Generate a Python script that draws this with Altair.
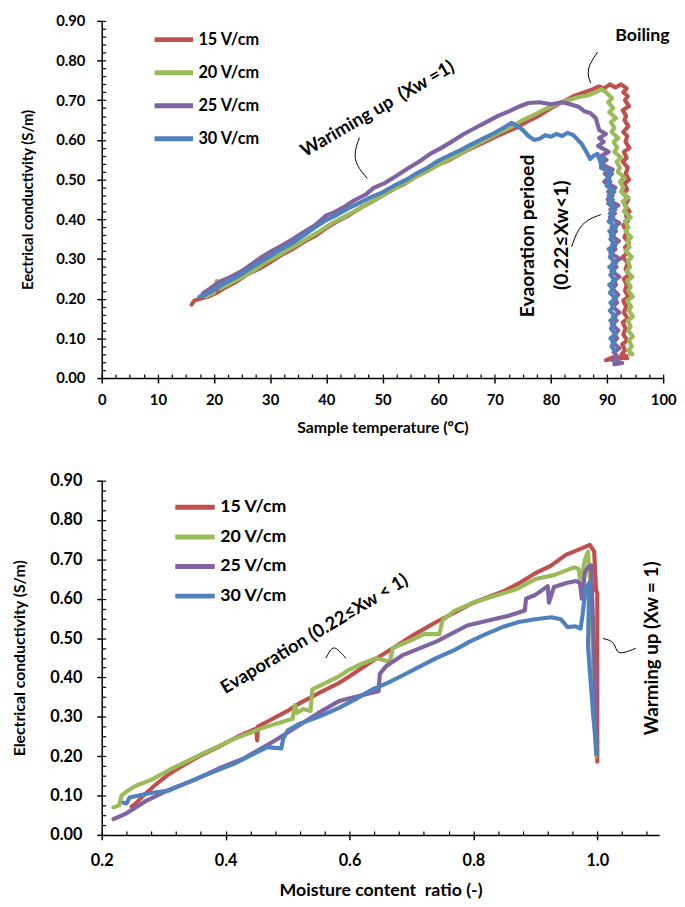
import altair as alt
import pandas as pd
import numpy as np

SERIES = ["15 V/cm", "20 V/cm", "25 V/cm", "30 V/cm"]
COLORS = ["#C0504D", "#9BBB59", "#8064A2", "#4F81BD"]
FONT = "Lato"

# ---------------- top panel: EC vs sample temperature (T, EC) ----------------
top_15 = [(16.0,0.185),(16.5,0.195),(17.5,0.20),(19.0,0.205),(20.5,0.215),(22.0,0.228),(24.0,0.243),
          (26.0,0.262),(28.0,0.275),(30.0,0.292),(32.0,0.31),(34.0,0.325),(36.0,0.343),(38.0,0.358),
          (40.0,0.378),(42.0,0.395),(44.0,0.41),(46.0,0.428),(48.0,0.443),(50.0,0.46),(52.0,0.476),
          (54.0,0.49),(56.0,0.508),(58.0,0.522),(60.0,0.538),(62.0,0.55),(64.0,0.566),(66.0,0.58),
          (68.0,0.593),(70.0,0.607),(72.0,0.62),(74.0,0.632),(76.0,0.648),(78.0,0.662),(80.0,0.68),
          (82.0,0.695),(84.0,0.71),(86.0,0.72),(87.5,0.728),(88.5,0.735),(89.5,0.73),(90.5,0.74),
          (91.5,0.732),(92.5,0.74),
          (93.5,0.73),(92.9,0.72),(93.7,0.71),(93.2,0.70),(93.9,0.685),(92.8,0.675),(93.4,0.66),
          (93.1,0.65),(93.8,0.635),(92.9,0.62),(93.6,0.61),(93.3,0.595),(94.0,0.58),(93.0,0.57),
          (93.5,0.555),(92.8,0.545),(93.7,0.53),(93.3,0.515),(93.9,0.50),(93.1,0.49),(93.6,0.475),
          (92.9,0.465),(93.8,0.45),(93.2,0.435),(94.0,0.42),(93.4,0.41),(93.7,0.395),(92.9,0.385),
          (93.5,0.37),(93.1,0.355),(93.9,0.34),(93.2,0.33),(93.6,0.315),(92.8,0.305),(93.7,0.29),
          (93.3,0.275),(93.9,0.26),(93.0,0.25),(93.5,0.235),(93.2,0.22),(93.8,0.205),(92.9,0.195),
          (93.4,0.18),(93.0,0.165),(93.7,0.15),(92.8,0.14),(93.3,0.125),(92.9,0.11),(93.6,0.095),
          (92.7,0.085),(93.2,0.07),(92.6,0.06),(93.4,0.055),(91.5,0.05),(89.8,0.045),(91.0,0.052),
          (93.6,0.05)]
top_20 = [(18.5,0.205),(20.0,0.215),(20.5,0.245),(21.0,0.225),(23.0,0.24),(25.0,0.255),(27.0,0.27),
          (29.0,0.29),(31.0,0.305),(33.0,0.322),(35.0,0.338),(37.0,0.355),(39.0,0.372),(41.0,0.39),
          (43.0,0.405),(45.0,0.42),(47.0,0.436),(49.0,0.452),(51.0,0.468),(53.0,0.484),(55.0,0.5),
          (57.0,0.515),(59.0,0.53),(61.0,0.545),(63.0,0.56),(65.0,0.575),(67.0,0.59),(69.0,0.605),
          (71.0,0.62),(73.0,0.633),(75.0,0.65),(77.0,0.663),(79.0,0.678),(81.0,0.69),(83.0,0.7),
          (85.0,0.708),(86.5,0.712),(88.0,0.72),(89.0,0.728),(89.8,0.72),
          (90.9,0.705),(90.2,0.695),(91.1,0.68),(90.4,0.67),(91.6,0.655),(90.7,0.645),(91.3,0.63),
          (90.8,0.62),(92.0,0.605),(91.2,0.595),(91.8,0.58),(91.3,0.57),(92.5,0.555),(91.7,0.545),
          (92.3,0.53),(91.9,0.52),(93.1,0.505),(92.3,0.495),(92.9,0.48),(92.5,0.47),(93.8,0.455),
          (92.8,0.445),(93.5,0.43),(93.0,0.42),(94.2,0.405),(93.2,0.395),(93.8,0.38),(93.3,0.37),
          (94.3,0.355),(93.6,0.345),(94.0,0.33),(93.3,0.32),(94.4,0.305),(93.7,0.295),(94.1,0.28),
          (93.5,0.27),(94.5,0.255),(93.6,0.245),(94.2,0.23),(93.8,0.22),(94.6,0.205),(93.6,0.195),
          (94.3,0.18),(93.9,0.17),(94.6,0.155),(93.7,0.145),(94.2,0.13),(93.8,0.12),(94.6,0.105),
          (93.9,0.095),(94.4,0.08),(93.8,0.07),(94.5,0.06),(94.0,0.06)]
top_25 = [(18.0,0.213),(19.5,0.228),(21.0,0.243),(23.0,0.255),(25.0,0.27),(27.0,0.29),(28.5,0.305),
          (30.0,0.318),(32.0,0.333),(34.0,0.35),(36.0,0.368),(38.0,0.385),(40.0,0.41),(41.5,0.418),
          (43.0,0.43),(45.0,0.448),(47.0,0.462),(48.5,0.48),(50.5,0.492),(52.5,0.51),(54.5,0.528),
          (56.5,0.545),(58.5,0.565),(60.5,0.58),(62.5,0.597),(64.5,0.615),(66.5,0.63),(68.5,0.645),
          (70.5,0.66),(72.5,0.672),(74.5,0.685),(76.0,0.693),(78.0,0.695),(80.0,0.69),(82.0,0.695),
          (83.5,0.69),(85.0,0.683),(86.0,0.672),(87.0,0.668),(88.0,0.655),(88.6,0.625),
          (89.8,0.615),(88.6,0.605),(89.4,0.595),(88.4,0.585),(90.3,0.57),(89.0,0.56),(89.9,0.55),
          (88.9,0.54),(91.0,0.525),(89.6,0.515),(90.4,0.505),(89.5,0.495),(91.5,0.48),(90.2,0.47),
          (91.0,0.46),(90.1,0.45),(92.0,0.435),(90.6,0.425),(91.4,0.415),(90.5,0.405),(92.2,0.39),
          (90.8,0.38),(91.6,0.37),(90.7,0.36),(92.1,0.345),(90.9,0.335),(91.5,0.325),(90.6,0.315),
          (92.3,0.30),(91.0,0.29),(91.7,0.28),(90.8,0.27),(92.2,0.255),(91.1,0.245),(91.6,0.235),
          (90.9,0.225),(92.0,0.21),(91.2,0.20),(91.8,0.19),(91.0,0.18),(92.2,0.165),(91.1,0.155),
          (91.7,0.145),(90.9,0.135),(92.0,0.12),(91.3,0.11),(91.8,0.10),(91.0,0.09),(92.2,0.075),
          (91.2,0.065),(91.8,0.055),(91.0,0.045),(92.7,0.038),(91.3,0.035)]
top_30 = [(17.4,0.205),(18.5,0.21),(20.0,0.222),(22.0,0.24),(24.0,0.255),(26.0,0.272),(28.0,0.29),
          (30.0,0.307),(32.0,0.325),(34.0,0.34),(36.0,0.36),(38.0,0.38),(40.0,0.398),(42.0,0.412),
          (44.0,0.428),(46.0,0.442),(48.0,0.456),(50.0,0.468),(52.0,0.484),(54.0,0.498),(56.0,0.515),
          (58.0,0.53),(60.0,0.548),(62.0,0.562),(64.0,0.575),(66.0,0.59),(68.0,0.604),(70.0,0.618),
          (71.5,0.63),(73.0,0.643),(74.0,0.635),(75.0,0.625),(76.0,0.61),(77.0,0.6),(78.0,0.603),
          (79.0,0.612),(80.0,0.608),(81.0,0.615),(82.0,0.61),(83.0,0.618),(84.0,0.612),(84.8,0.6),
          (85.5,0.59),(86.3,0.57),(87.0,0.552),(87.6,0.56),(88.3,0.565),(88.8,0.545),(89.3,0.555),
          (88.9,0.53),(89.6,0.525),
          (90.9,0.515),(90.1,0.505),(90.6,0.495),(89.9,0.485),(91.3,0.47),(90.3,0.46),(91.0,0.45),
          (90.2,0.44),(91.5,0.425),(90.5,0.415),(91.1,0.405),(90.3,0.395),(91.6,0.38),(90.4,0.37),
          (91.2,0.36),(90.6,0.35),(91.5,0.335),(90.3,0.325),(91.0,0.315),(90.5,0.305),(91.6,0.29),
          (90.4,0.28),(91.3,0.27),(90.6,0.26),(91.5,0.245),(90.4,0.235),(91.1,0.225),(90.5,0.215),
          (91.6,0.20),(90.6,0.19),(91.2,0.18),(90.5,0.17),(91.5,0.155),(90.6,0.145),(91.2,0.135),
          (90.7,0.125),(91.5,0.11),(90.6,0.10),(91.3,0.09),(90.8,0.08),(91.3,0.07)]

# ---------------- bottom panel: EC vs moisture content ratio (Xw, EC) ----------------
bot_15 = [(1.0,0.186),(1.0,0.615),(0.998,0.62),(0.995,0.72),(0.988,0.737),(0.97,0.725),(0.95,0.712),
          (0.924,0.683),(0.90,0.665),(0.871,0.637),(0.85,0.62),(0.8,0.59),(0.77,0.565),(0.74,0.541),
          (0.70,0.505),(0.67,0.474),(0.64,0.445),(0.60,0.403),(0.583,0.386),(0.55,0.36),(0.52,0.335),
          (0.50,0.315),(0.47,0.29),(0.452,0.275),(0.451,0.24),(0.449,0.27),(0.42,0.25),(0.39,0.225),
          (0.361,0.203),(0.335,0.18),(0.309,0.155),(0.285,0.125),(0.266,0.098),(0.255,0.08),(0.248,0.072)]
bot_20 = [(0.998,0.2),(0.99,0.6),(0.985,0.72),(0.98,0.70),(0.976,0.66),(0.972,0.65),(0.97,0.675),
          (0.963,0.68),(0.95,0.672),(0.93,0.66),(0.9,0.65),(0.87,0.625),(0.85,0.615),(0.82,0.6),
          (0.8,0.59),(0.77,0.57),(0.75,0.545),(0.745,0.51),(0.72,0.51),(0.70,0.495),(0.685,0.485),
          (0.67,0.475),(0.665,0.44),(0.643,0.449),(0.62,0.435),(0.60,0.42),(0.583,0.403),(0.56,0.385),
          (0.54,0.37),(0.537,0.315),(0.525,0.32),(0.515,0.31),(0.512,0.33),(0.508,0.295),(0.46,0.272),
          (0.414,0.244),(0.361,0.205),(0.309,0.165),(0.28,0.14),(0.255,0.125),(0.24,0.11),(0.232,0.1),
          (0.228,0.075),(0.219,0.07)]
bot_25 = [(0.999,0.21),(0.995,0.45),(0.99,0.685),(0.985,0.68),(0.98,0.667),(0.975,0.6),(0.972,0.64),
          (0.966,0.645),(0.95,0.64),(0.93,0.63),(0.922,0.59),(0.92,0.632),(0.9,0.61),(0.885,0.6),
          (0.883,0.57),(0.857,0.557),(0.836,0.549),(0.79,0.532),(0.74,0.491),(0.685,0.456),(0.66,0.43),
          (0.649,0.41),(0.647,0.365),(0.62,0.355),(0.583,0.34),(0.55,0.31),(0.52,0.28),(0.49,0.25),
          (0.467,0.228),(0.43,0.195),(0.388,0.168),(0.35,0.14),(0.309,0.115),(0.27,0.085),(0.24,0.055),
          (0.219,0.04)]
bot_30 = [(0.999,0.205),(0.993,0.313),(0.985,0.48),(0.987,0.641),(0.981,0.624),(0.976,0.557),
          (0.973,0.524),(0.965,0.53),(0.952,0.528),(0.941,0.548),(0.926,0.553),(0.9,0.548),(0.873,0.541),
          (0.847,0.528),(0.82,0.51),(0.794,0.491),(0.77,0.47),(0.74,0.449),(0.71,0.425),(0.688,0.407),
          (0.66,0.385),(0.636,0.369),(0.61,0.345),(0.583,0.323),(0.55,0.3),(0.519,0.282),(0.50,0.265),
          (0.493,0.245),(0.49,0.22),(0.467,0.223),(0.414,0.181),(0.361,0.148),(0.309,0.113),(0.276,0.106),
          (0.26,0.1),(0.245,0.095),(0.24,0.08),(0.235,0.082)]

# ---------------- annotations (text, x, y, angle, font size) in data coordinates ----------------
top_notes = [("Boiling", 96.3, 0.862, 0, 18),
             ("Wariming up\u00a0 (Xw =1)", 49.1, 0.679, 330, 18.5),
             ("Evaoration perioed", 76.0, 0.358, 270, 19.5),
             ("(0.22≤Xw<1)", 82.0, 0.36, 270, 19.5)]
top_leaders = [[(88.3,0.821),(86.2,0.777),(87.1,0.743)],
               [(45.9,0.606),(44.5,0.55),(47.3,0.503)],
               [(88.9,0.412),(85.2,0.392),(83.7,0.331)]]
bot_notes = [("Evaporation (0.22≤Xw < 1)", 0.543, 0.511, 329, 18.5),
             ("Warming up (Xw = 1)", 1.089, 0.474, 270, 19)]
bot_leaders = [[(0.562,0.449),(0.572,0.481),(0.583,0.469),(0.594,0.449)],
               [(1.009,0.499),(1.030,0.491),(1.030,0.454),(1.062,0.474)]]


def series_frame(groups):
    rows = []
    for name, pts in zip(SERIES, groups):
        for i, (a, b) in enumerate(pts):
            rows.append({"x": a, "y": b, "series": name, "idx": i})
    return pd.DataFrame(rows)


def leader_frame(leaders):
    rows = []
    for g, pts in enumerate(leaders):
        for i, (a, b) in enumerate(pts):
            rows.append({"x": a, "y": b, "g": g, "i": i})
    return pd.DataFrame(rows)


def panel(groups, notes, leaders, xdom, xmaj, xmin, xfmt, xtitle, ytitle, ymin,
          w, h, fs, xtfs, ytfs, lfs, lx, ly, rowpad, symlen, ylabpad, ytitlepad, xlabpad, xtitlepad):
    df = series_frame(groups)
    xs = alt.Scale(domain=xdom, nice=False, zero=False)
    ys = alt.Scale(domain=[0, 0.9], nice=False, zero=False)
    ymaj = [round(v, 2) for v in np.arange(0, 0.901, 0.1)]
    common = dict(grid=False, labelFont=FONT, labelFontSize=fs, labelFontWeight="bold",
                  labelColor="black", titleFont=FONT, titleFontWeight="bold",
                  titleColor="black", domainColor="black", domainWidth=1.5, tickColor="black",
                  tickWidth=1.5, tickSize=5, labelFlush=False)
    main = alt.Chart(df).mark_line(strokeWidth=4.2, strokeJoin="round", strokeCap="round").encode(
        x=alt.X("x:Q", scale=xs, axis=alt.Axis(values=xmaj, format=xfmt, title=xtitle, titleFontSize=xtfs,
                                               labelPadding=xlabpad, titlePadding=xtitlepad, **common)),
        y=alt.Y("y:Q", scale=ys, axis=alt.Axis(values=ymaj, format=".2f", title=ytitle, titleFontSize=ytfs,
                                               labelPadding=ylabpad, titlePadding=ytitlepad, **common)),
        color=alt.Color("series:N", scale=alt.Scale(domain=SERIES, range=COLORS),
                        legend=alt.Legend(orient="none", legendX=lx, legendY=ly, title=None,
                                          symbolType="stroke", symbolSize=symlen * symlen,
                                          symbolStrokeWidth=5, labelFont=FONT, labelFontSize=lfs,
                                          labelFontWeight="bold", labelColor="black", labelOffset=3,
                                          rowPadding=rowpad, clipHeight=20, padding=0)),
        order=alt.Order("idx:Q"),
    )
    minor = alt.Chart(df).mark_line(strokeOpacity=0).encode(
        x=alt.X("x:Q", scale=xs, axis=alt.Axis(values=xmin, labels=False, domain=False, grid=False,
                                               tickSize=4, tickColor="black", tickWidth=1.2,
                                               offset=-4, title=None, orient="bottom")),
        y=alt.Y("y:Q", scale=ys, axis=alt.Axis(values=ymin, labels=False, domain=False, grid=False,
                                               tickSize=4, tickColor="black", tickWidth=1.2,
                                               offset=-4, title=None, orient="left")),
        detail="series:N",
        order=alt.Order("idx:Q"),
    )
    ndf = pd.DataFrame(notes, columns=["text", "x", "y", "angle", "size"])
    text = alt.Chart(ndf).mark_text(font=FONT, fontWeight="bold", color="black", align="center",
                                    baseline="middle").encode(
        x=alt.X("x:Q", scale=xs, axis=None),
        y=alt.Y("y:Q", scale=ys, axis=None),
        text="text:N",
        angle=alt.Angle("angle:Q", scale=None),
        size=alt.Size("size:Q", scale=None, legend=None),
    )
    lead = alt.Chart(leader_frame(leaders)).mark_line(color="black", strokeWidth=1,
                                                       interpolate="basis").encode(
        x=alt.X("x:Q", scale=xs, axis=None),
        y=alt.Y("y:Q", scale=ys, axis=None),
        detail="g:N",
        order=alt.Order("i:Q"),
    )
    return alt.layer(main, minor, text, lead).resolve_axis(
        x="independent", y="independent").properties(width=w, height=h)


top = panel([top_15, top_20, top_25, top_30], top_notes, top_leaders,
            [0, 100], list(range(0, 101, 10)), [v * 2.5 for v in range(41)], "d",
            "Sample temperature (ºC)", "Eectrical conductivity (S/m)",
            [round(v * 0.02, 2) for v in range(46)],
            w=569, h=362, fs=15, xtfs=16, ytfs=15, lfs=16.5, lx=51, ly=9, rowpad=13.5, symlen=39,
            ylabpad=12, ytitlepad=21, xlabpad=10, xtitlepad=12)

bot = panel([bot_15, bot_20, bot_25, bot_30], bot_notes, bot_leaders,
            [0.2, 1.1], [0.2, 0.4, 0.6, 0.8, 1.0], [round(0.2 + v * 0.04, 2) for v in range(23)], ".1f",
            "Moisture content\u00a0 ratio (-)", "Electrical conductivity (S/m)",
            [round(v * 0.025, 3) for v in range(37)],
            w=565, h=359, fs=16.5, xtfs=18, ytfs=16, lfs=18, lx=72, ly=17, rowpad=10, symlen=40,
            ylabpad=15, ytitlepad=23, xlabpad=13, xtitlepad=13)

chart = alt.vconcat(top, bot, spacing=38).resolve_legend(
    color="independent").configure_view(stroke=None).properties(
    padding={"left": 3, "top": 0, "right": 0, "bottom": 0})

chart.save("out.html", embed_options={"renderer": "svg", "actions": False})
